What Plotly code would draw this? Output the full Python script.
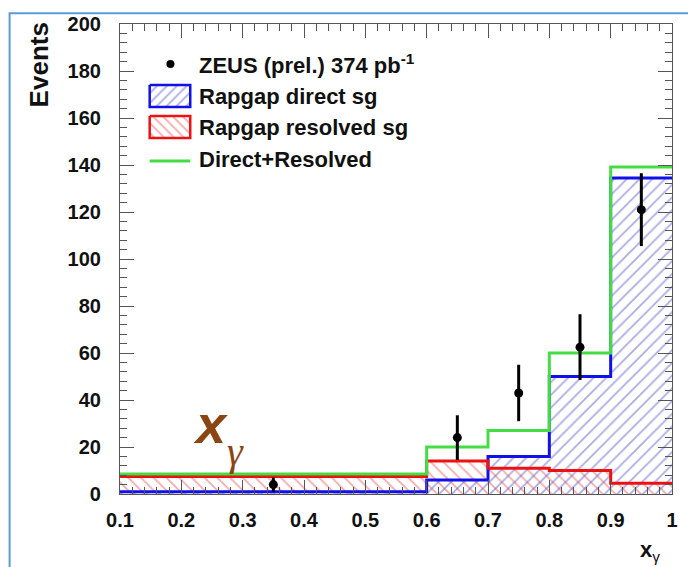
import plotly.graph_objects as go

# x_gamma binning (first bin is wide)
bin_edges = [0.1, 0.6, 0.7, 0.8, 0.9, 1.0]
bin_centers = [0.35, 0.65, 0.75, 0.85, 0.95]
bin_widths = [0.5, 0.1, 0.1, 0.1, 0.1]

# Rapgap predictions (events per bin)
direct_sg = [1.0, 6.0, 16.0, 50.0, 134.5]
resolved_sg = [7.5, 14.0, 11.0, 10.0, 4.6]
total_sg = [d + r for d, r in zip(direct_sg, resolved_sg)]

# ZEUS preliminary data
data_y = [4.0, 24.0, 43.0, 62.5, 121.0]
data_err = [3.0, 9.5, 12.0, 14.0, 15.5]

y_ticks = [0, 20, 40, 60, 80, 100, 120, 140, 160, 180, 200]
x_ticks = [0.1, 0.2, 0.3, 0.4, 0.5, 0.6, 0.7, 0.8, 0.9, 1.0]
x_tick_text = ["0.1", "0.2", "0.3", "0.4", "0.5", "0.6", "0.7", "0.8", "0.9", "1"]

legend_labels = ["ZEUS (prel.) 374 pb<sup>-1</sup>", "Rapgap direct sg",
                 "Rapgap resolved sg", "Direct+Resolved"]

BLUE = "#1010e8"
RED = "#ee1111"
GREEN = "#44dd44"
HATCH_BLUE = "#5858d0"
HATCH_RED = "#ee5555"
FONT = "Liberation Sans"

# plot-area geometry in pixels (used for the overlay axis and paper placement)
PX_L, PX_R, PX_T, PX_B = 120, 678, 24, 494


def px_to_paper(px, py):
    return (px - PX_L) / (PX_R - PX_L), (PX_B - py) / (PX_B - PX_T)


def step_y(vals):
    return list(vals) + [vals[-1]]


fig = go.Figure()

# hatched fills
fig.add_trace(go.Bar(
    x=bin_centers, y=resolved_sg, width=bin_widths, showlegend=False,
    marker=dict(color="rgba(0,0,0,0)", line=dict(width=0),
                pattern=dict(shape="\\", fgcolor=HATCH_RED, bgcolor="rgba(0,0,0,0)",
                             size=9, solidity=0.2, fillmode="overlay")),
    hoverinfo="skip"))
fig.add_trace(go.Bar(
    x=bin_centers, y=direct_sg, width=bin_widths, showlegend=False,
    marker=dict(color="rgba(0,0,0,0)", line=dict(width=0),
                pattern=dict(shape="/", fgcolor=HATCH_BLUE, bgcolor="rgba(0,0,0,0)",
                             size=9, solidity=0.2, fillmode="overlay")),
    hoverinfo="skip"))

# histogram outlines
fig.add_trace(go.Scatter(x=bin_edges, y=step_y(direct_sg), mode="lines",
                         line=dict(color=BLUE, width=3, shape="hv"), showlegend=False))
fig.add_trace(go.Scatter(x=bin_edges, y=step_y(resolved_sg), mode="lines",
                         line=dict(color=RED, width=3, shape="hv"), showlegend=False))
fig.add_trace(go.Scatter(x=bin_edges, y=step_y(total_sg), mode="lines",
                         line=dict(color=GREEN, width=3, shape="hv"), showlegend=False))

# data points
fig.add_trace(go.Scatter(
    x=bin_centers, y=data_y, mode="markers",
    marker=dict(color="black", size=9),
    error_y=dict(type="data", array=data_err, thickness=3, width=0, color="black"),
    showlegend=False))

# ---- legend keys, drawn on a pixel-scaled overlay axis pair (x2/y2) ----
box_x0, box_x1 = 150, 191
row_y = [64, 96, 127, 159]
box_h = 11
fig.add_trace(go.Scatter(x=[171], y=[row_y[0]], xaxis="x2", yaxis="y2", mode="markers",
                         marker=dict(color="black", size=8), showlegend=False, hoverinfo="skip"))
for yc, line_col, hatch_col, shp in [(row_y[1], BLUE, HATCH_BLUE, "/"),
                                     (row_y[2], RED, HATCH_RED, "\\")]:
    fig.add_trace(go.Scatter(
        x=[box_x0, box_x1, box_x1, box_x0, box_x0],
        y=[yc - box_h, yc - box_h, yc + box_h, yc + box_h, yc - box_h],
        xaxis="x2", yaxis="y2", mode="lines", fill="toself",
        fillcolor="rgba(0,0,0,0)",
        fillpattern=dict(shape=shp, fgcolor=hatch_col, bgcolor="white", size=7, solidity=0.25),
        line=dict(color=line_col, width=2.5), showlegend=False, hoverinfo="skip"))
fig.add_trace(go.Scatter(x=[box_x0, box_x1], y=[row_y[3] + 2, row_y[3] + 2], xaxis="x2", yaxis="y2",
                         mode="lines", line=dict(color=GREEN, width=3),
                         showlegend=False, hoverinfo="skip"))

axis_common = dict(
    showline=True, linecolor="#555", linewidth=1.2, mirror="allticks",
    ticks="inside", tickcolor="#555", tickwidth=1.2, ticklen=14,
    showgrid=False, zeroline=False,
    tickfont=dict(family=FONT, size=20, color="#111", weight="bold"),
)

fig.update_xaxes(range=[0.1, 1.0], tickvals=x_ticks, ticktext=x_tick_text,
                 ticklabelstandoff=8,
                 minor=dict(ticks="inside", ticklen=7, dtick=0.02, tick0=0.1,
                            tickcolor="#555", showgrid=False),
                 selector=dict(), **axis_common)
fig.update_yaxes(range=[0, 200], tickvals=y_ticks, ticklabelstandoff=14,
                 minor=dict(ticks="inside", ticklen=7, dtick=4, tick0=0,
                            tickcolor="#555", showgrid=False),
                 **axis_common)

legend_annotations = [
    dict(text="<b>%s</b>" % lab, xref="x2", yref="y2", x=198, y=yc,
         xanchor="left", yanchor="middle", showarrow=False,
         font=dict(family=FONT, size=22, color="#111"))
    for lab, yc in zip(legend_labels, row_y)
]

ev_x, ev_y = px_to_paper(38, 20)
xt_x, xt_y = px_to_paper(656, 551)

fig.update_layout(
    width=688, height=567, autosize=False,
    margin=dict(l=PX_L, r=688 - PX_R, t=PX_T, b=567 - PX_B),
    plot_bgcolor="white", paper_bgcolor="white",
    barmode="overlay", bargap=0, showlegend=False,
    xaxis2=dict(overlaying="x", anchor="y2", range=[PX_L, PX_R], visible=False,
                showgrid=False, zeroline=False),
    yaxis2=dict(overlaying="y", anchor="x2", range=[PX_B, PX_T], visible=False,
                showgrid=False, zeroline=False),
    annotations=legend_annotations + [
        dict(text="<b>Events</b>", xref="paper", yref="paper", x=ev_x, y=ev_y,
             xanchor="center", yanchor="top", textangle=-90, showarrow=False,
             font=dict(family=FONT, size=26, color="#111")),
        dict(text="<b>x</b><sub>γ</sub>", xref="paper", yref="paper", x=xt_x, y=xt_y,
             xanchor="center", yanchor="middle", showarrow=False,
             font=dict(family=FONT, size=22, color="#111")),
        dict(text="<b><i>x</i></b>", xref="x2", yref="y2", x=211, y=424,
             xanchor="center", yanchor="middle", showarrow=False,
             font=dict(family=FONT, size=54, color="#8b4513")),
        dict(text="<i>γ</i>", xref="x2", yref="y2", x=237, y=451,
             xanchor="center", yanchor="middle", showarrow=False,
             font=dict(family="Liberation Serif", size=40, color="#8b4513")),
    ],
    shapes=[
        dict(type="rect", xref="paper", yref="paper", x0=-0.2, y0=-0.3, x1=1.1, y1=1.023,
             line=dict(color="#5b9bd5", width=2), fillcolor="rgba(0,0,0,0)", layer="below"),
    ],
)

fig.write_html("out.html")
